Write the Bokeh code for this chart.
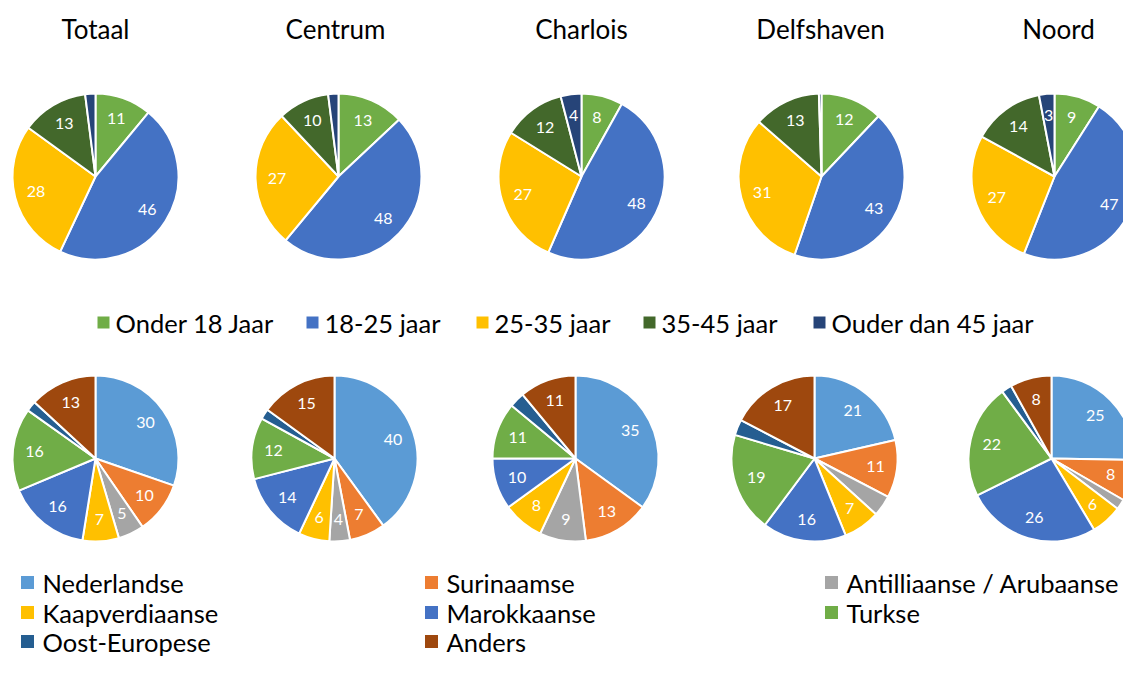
import math
from bokeh.plotting import figure
from bokeh.models import ColumnDataSource, Range1d
from bokeh.core.properties import value
from bokeh.embed import file_html
from bokeh.resources import INLINE

# ---------------- data ----------------
districts = ["Totaal", "Centrum", "Charlois", "Delfshaven", "Noord"]

age_groups = ["Onder 18 Jaar", "18-25 jaar", "25-35 jaar", "35-45 jaar", "Ouder dan 45 jaar"]
age_colors = ["#70AD47", "#4472C4", "#FFC000", "#43682B", "#264478"]
age_totaal = [11, 46, 28, 13, 2]
age_centrum = [13, 48, 27, 10, 2]
age_charlois = [8, 48, 27, 12, 4]
age_delfshaven = [12, 43, 31, 13, 0.5]
age_noord = [9, 47, 27, 14, 3]
# slices without a data label in the reference (index per district)
age_unlabelled = [[4], [4], [], [4], []]

origins = ["Nederlandse", "Surinaamse", "Antilliaanse / Arubaanse", "Kaapverdiaanse",
           "Marokkaanse", "Turkse", "Oost-Europese", "Anders"]
origin_colors = ["#5B9BD5", "#ED7D31", "#A5A5A5", "#FFC000",
                 "#4472C4", "#70AD47", "#255E91", "#9E480E"]
origin_totaal = [30, 10, 5, 7, 16, 16, 2, 13]
origin_centrum = [40, 7, 4, 6, 14, 12, 2, 15]
origin_charlois = [35, 13, 9, 8, 10, 11, 3, 11]
origin_delfshaven = [21, 11, 4, 7, 16, 19, 3, 17]
origin_noord = [25, 8, 2, 6, 26, 22, 2, 8]
origin_unlabelled = [[6], [6], [6], [2, 6], [2, 6]]

age_series = [age_totaal, age_centrum, age_charlois, age_delfshaven, age_noord]
origin_series = [origin_totaal, origin_centrum, origin_charlois, origin_delfshaven, origin_noord]

# ---------------- layout (reference pixel coordinates) ----------------
W, H = 1123, 659
FONT = "Lato"
col_x_top = [95, 338, 581, 821, 1054]
col_x_bot = [95, 334, 575, 814, 1051]
title_x = [95, 335, 581, 820, 1058]
row_y_top = 176
row_y_bot = 458
title_y = 28
R = 83
LABEL_R = 0.74


def Y(ref_y):
    return 675 - ref_y


p = figure(width=W, height=H, x_range=Range1d(0, W), y_range=Range1d(675 - H, 675),
           x_axis_type=None, y_axis_type=None, toolbar_location=None,
           output_backend="svg", min_border=0, outline_line_color=None,
           background_fill_color="white", border_fill_color="white")
p.grid.visible = False


def add_pies(series, colors, unlabelled, xs, cy):
    wx, wy, st, en, fc = [], [], [], [], []
    lx, ly, lt = [], [], []
    for k, vals in enumerate(series):
        tot = float(sum(vals))
        cum = 0.0
        for i, v in enumerate(vals):
            a0 = math.pi / 2 - 2 * math.pi * (cum + v) / tot
            a1 = math.pi / 2 - 2 * math.pi * cum / tot
            wx.append(xs[k]); wy.append(Y(cy)); st.append(a0); en.append(a1); fc.append(colors[i])
            if i not in unlabelled[k]:
                mid = (a0 + a1) / 2
                lx.append(xs[k] + LABEL_R * R * math.cos(mid))
                ly.append(Y(cy) + LABEL_R * R * math.sin(mid))
                lt.append(str(int(round(v))))
            cum += v
    src = ColumnDataSource(dict(x=wx, y=wy, s=st, e=en, c=fc))
    p.wedge(x="x", y="y", radius=R, start_angle="s", end_angle="e", fill_color="c",
            line_color="white", line_width=2, source=src)
    lsrc = ColumnDataSource(dict(x=lx, y=ly, t=lt))
    p.text(x="x", y="y", text="t", source=lsrc, text_color="white",
           text_font=value(FONT), text_font_size="16px", text_align="center",
           text_baseline="middle")


add_pies(age_series, age_colors, age_unlabelled, col_x_top, row_y_top)
add_pies(origin_series, origin_colors, origin_unlabelled, col_x_bot, row_y_bot)

# titles
p.text(x=title_x, y=[Y(title_y)] * 5, text=districts,
       text_font=value(FONT), text_font_size="26px", text_color="black",
       text_align="center", text_baseline="middle")

# legend 1 (age)
leg1_sq_x = [103, 312, 482, 649, 819]
leg1_y = 322
p.rect(x=leg1_sq_x, y=[Y(leg1_y)] * 5, width=12, height=12, fill_color=age_colors, line_color=None)
p.text(x=[sx + 12 for sx in leg1_sq_x], y=[Y(leg1_y)] * 5, text=age_groups,
       text_font=value(FONT), text_font_size="25.5px", text_color="black",
       text_align="left", text_baseline="middle")

# legend 2 (origin), 3 columns
leg2_col_x = [27, 431, 831]
leg2_row_y = [582, 612, 641]
sq_x, sq_y = [], []
for i in range(len(origins)):
    sq_x.append(leg2_col_x[i % 3]); sq_y.append(Y(leg2_row_y[i // 3]))
p.rect(x=sq_x, y=sq_y, width=13, height=13, fill_color=origin_colors, line_color=None)
p.text(x=[sx + 15 for sx in sq_x], y=sq_y, text=origins,
       text_font=value(FONT), text_font_size="25.5px", text_color="black",
       text_align="left", text_baseline="middle")

open("out.html", "w").write(file_html(p, INLINE))
